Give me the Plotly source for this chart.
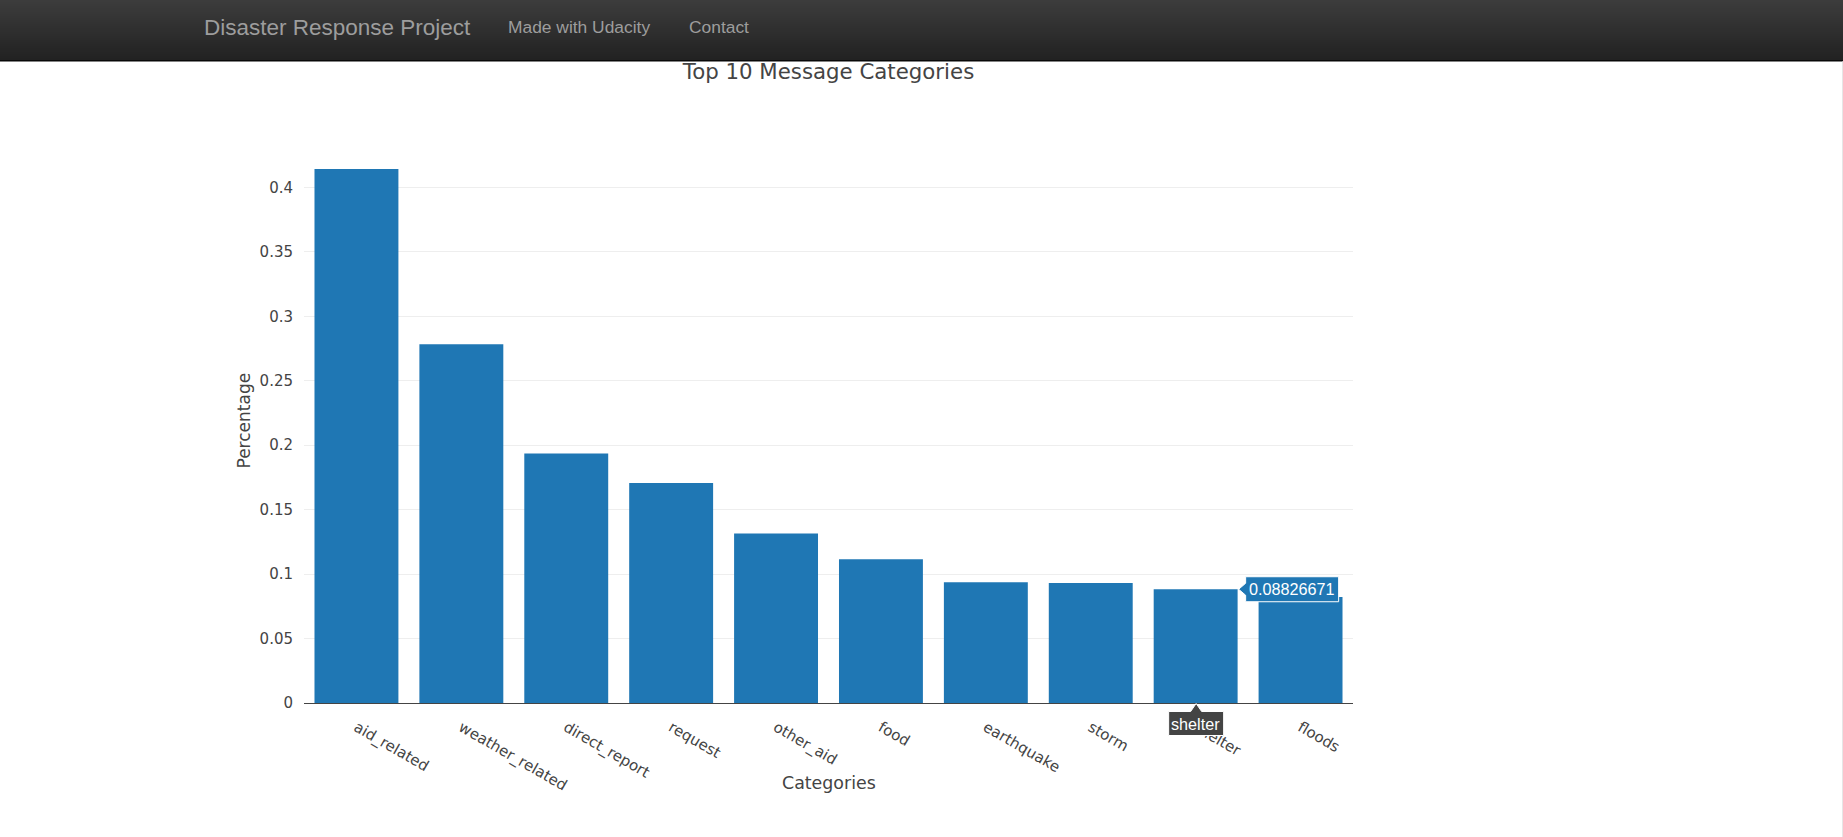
import plotly.graph_objects as go

# ---- data ----
categories = ["aid_related", "weather_related", "direct_report", "request", "other_aid",
              "food", "earthquake", "storm", "shelter", "floods"]
percentages = [0.414251, 0.278341, 0.193584, 0.170659, 0.131446,
               0.111497, 0.093645, 0.093187, 0.08826671, 0.082202]
y_ticks = [0, 0.05, 0.1, 0.15, 0.2, 0.25, 0.3, 0.35, 0.4]
y_tick_text = ["0", "0.05", "0.1", "0.15", "0.2", "0.25", "0.3", "0.35", "0.4"]
nav_brand = "Disaster Response Project"
nav_links = ["Made with Udacity", "Contact"]
hover_index = 8

# ---- layout geometry (pixels) ----
W, H = 1843, 837
L, R, T, B = 304, 490, 141, 134
PW, PH = W - L - R, H - T - B


def px(x):
    return (x - L) / PW


def py(y):
    return (H - B - y) / PH


BAR = "#1f77b4"
TXT = "#444"
FONT = "Verdana, DejaVu Sans, sans-serif"
NAVFONT = "Liberation Sans, Arial, Helvetica, sans-serif"

fig = go.Figure(go.Bar(x=categories, y=percentages, marker=dict(color=BAR, line=dict(width=0))))

shapes = []
# navbar gradient
n = 30
nav_h = 60
top_c = (0x3c, 0x3c, 0x3c)
bot_c = (0x22, 0x22, 0x22)
for i in range(n):
    t = i / (n - 1)
    c = tuple(int(round(top_c[k] + (bot_c[k] - top_c[k]) * t)) for k in range(3))
    shapes.append(dict(type="rect", xref="paper", yref="paper",
                       x0=px(0), x1=px(W), y0=py(nav_h * (i + 1) / n + 0.3), y1=py(nav_h * i / n),
                       fillcolor="rgb(%d,%d,%d)" % c, line=dict(width=0), layer="above"))
shapes.append(dict(type="rect", xref="paper", yref="paper", x0=px(0), x1=px(W),
                   y0=py(61.5), y1=py(60), fillcolor="#080808", line=dict(width=0), layer="above"))
# right edge thin line
shapes.append(dict(type="line", xref="paper", yref="paper", x0=px(1842.5), x1=px(1842.5),
                   y0=py(H), y1=py(61.5), line=dict(color="#e6e6e6", width=1), layer="above"))

# hover label for value (box + arrow)
shapes.append(dict(type="path", xref="x", yref="y", xsizemode="pixel", ysizemode="pixel",
                   xanchor=hover_index, yanchor=percentages[hover_index],
                   path="M43,0 L50,6 L50,12.5 L143,12.5 L143,-12.5 L50,-12.5 L50,-6 Z",
                   fillcolor=BAR, line=dict(color="white", width=1), layer="above"))
# hover label for category (below the axis -> paper y ref so it is not clipped)
shapes.append(dict(type="path", xref="x", yref="paper", xsizemode="pixel", ysizemode="pixel",
                   xanchor=hover_index, yanchor=0,
                   path="M0.5,-0.5 L6,-8.5 L28,-8.5 L28,-32.5 L-27,-32.5 L-27,-8.5 L-5,-8.5 Z",
                   fillcolor="#444", line=dict(color="white", width=1), layer="above"))

annotations = [
    dict(text=nav_brand, xref="paper", yref="paper", x=px(202), y=py(28), xanchor="left",
         yanchor="middle", showarrow=False, font=dict(family=NAVFONT, size=22.5, color="#9d9d9d")),
    dict(text=nav_links[0], xref="paper", yref="paper", x=px(506), y=py(27), xanchor="left",
         yanchor="middle", showarrow=False, font=dict(family=NAVFONT, size=17.4, color="#9d9d9d")),
    dict(text=nav_links[1], xref="paper", yref="paper", x=px(687), y=py(27), xanchor="left",
         yanchor="middle", showarrow=False, font=dict(family=NAVFONT, size=17.4, color="#9d9d9d")),
    dict(text="Percentage", xref="paper", yref="paper", x=px(243.5), y=py(421), textangle=-90,
         xanchor="center", yanchor="middle", showarrow=False, font=dict(family=FONT, size=17, color=TXT)),
    dict(text="Categories", xref="paper", yref="paper", x=px(828.5), y=py(783),
         xanchor="center", yanchor="middle", showarrow=False, font=dict(family=FONT, size=17.4, color=TXT)),
    dict(text=f"{percentages[hover_index]:.8f}".rstrip("0"), xref="x", yref="y",
         x=hover_index, y=percentages[hover_index], xshift=96.5, xanchor="center", yanchor="middle",
         showarrow=False, font=dict(family=NAVFONT, size=16.2, color="white")),
    dict(text=categories[hover_index], xref="x", yref="paper", x=hover_index, y=0, yshift=-20.5,
         xanchor="center", yanchor="middle", showarrow=False,
         font=dict(family=NAVFONT, size=16.2, color="white")),
]

fig.update_layout(
    width=W, height=H,
    margin=dict(l=L, r=R, t=T, b=B, pad=0),
    paper_bgcolor="white", plot_bgcolor="white",
    bargap=0.2,
    showlegend=False,
    title=dict(text="Top 10 Message Categories", x=0.5, xref="paper", xanchor="center",
               y=1 - 72 / H, yref="container", yanchor="middle",
               font=dict(family=FONT, size=21.3, color=TXT)),
    xaxis=dict(type="category", tickangle=30, showgrid=False, showline=False, zeroline=False,
               ticks="", ticklabelstandoff=12, tickfont=dict(family=FONT, size=15, color=TXT)),
    yaxis=dict(range=[0, max(percentages) / 0.95], tickvals=y_ticks, ticktext=y_tick_text,
               showgrid=True, gridcolor="#eee", gridwidth=1, zeroline=True, zerolinecolor="#444",
               zerolinewidth=1, showline=False, ticks="", ticklabelstandoff=10,
               tickfont=dict(family=FONT, size=15, color=TXT)),
    shapes=shapes,
    annotations=annotations,
    hovermode=False,
)

fig.write_html("out.html", config={"displayModeBar": False},
               post_script="document.body.style.margin='0';document.body.style.overflow='hidden';")
